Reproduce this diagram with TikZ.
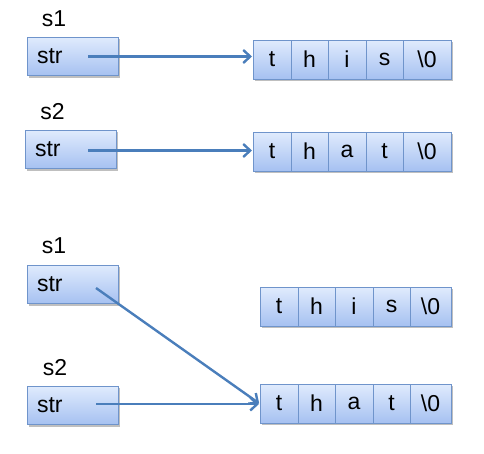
\documentclass[tikz,border=0pt]{standalone}
\usepackage{fontspec}
\setmainfont{Liberation Sans}
\usetikzlibrary{arrows.meta,shadows}
\definecolor{boxtop}{HTML}{E0EBFD}
\definecolor{boxbot}{HTML}{A6C1F1}
\definecolor{boxline}{HTML}{6F94CB}
\definecolor{arrowc}{HTML}{4A7EBB}
\begin{document}
\begin{tikzpicture}[x=1pt,y=-1pt,
  shaded/.style={draw=boxline, line width=0.9pt, top color=boxtop, bottom color=boxbot,
    drop shadow={shadow xshift=1.5pt,shadow yshift=-2.2pt,fill=black!50,opacity=0.5},
    inner sep=0pt, outer sep=0pt},
  txt/.style={font=\fontsize{23}{27}\selectfont},
  strbox/.style={shaded, txt, anchor=north west, minimum height=38.5pt,
    text width=71pt, inner xsep=10pt, align=left},
  cell/.style={shaded, txt, anchor=north west, minimum height=39pt, minimum width=#1},
  lbl/.style={txt, anchor=base, inner sep=0pt},
  ptr/.style={draw=arrowc, line width=2.4pt, -{Straight Barb[length=7pt,width=13pt]}, shorten >=1pt}
]
\useasboundingbox (0,0) rectangle (484,453);

% ---------- top half ----------
\node[lbl] (l1) at (54,26) {s1};
\node[strbox] (p1) at (27,37) {str};
\coordinate (p1s) at (88,56.5);
\node[cell=38pt] (a1) at (253,40) {t};
\node[cell=37pt] (a2) at (291,40) {h};
\node[cell=38pt] (a3) at (328,40) {i};
\node[cell=37pt] (a4) at (366,40) {s};
\node[cell=48pt] (a5) at (403,40) {\textbackslash 0};
\draw[ptr] (p1s) -- (a1.west |- p1s);

\node[lbl] (l2) at (52.5,119) {s2};
\node[strbox] (p2) at (25,130) {str};
\coordinate (p2s) at (88,150.5);
\node[cell=38pt] (b1) at (253,132) {t};
\node[cell=37pt] (b2) at (291,132) {h};
\node[cell=38pt] (b3) at (328,132) {a};
\node[cell=37pt] (b4) at (366,132) {t};
\node[cell=48pt] (b5) at (403,132) {\textbackslash 0};
\draw[ptr] (p2s) -- (b1.west |- p2s);

% ---------- bottom half ----------
\node[lbl] (l3) at (54,253) {s1};
\node[strbox] (p3) at (27,265) {str};
\coordinate (p3s) at (96,288);
\node[cell=38pt] (c1) at (260,287) {t};
\node[cell=37pt] (c2) at (298,287) {h};
\node[cell=38pt] (c3) at (335,287) {i};
\node[cell=37pt] (c4) at (373,287) {s};
\node[cell=41pt] (c5) at (410,287) {\textbackslash 0};

\node[lbl] (l4) at (55,375) {s2};
\node[strbox] (p4) at (27,386) {str};
\coordinate (p4s) at (96,404);
\node[cell=38pt] (d1) at (260,384) {t};
\node[cell=37pt] (d2) at (298,384) {h};
\node[cell=38pt] (d3) at (335,384) {a};
\node[cell=37pt] (d4) at (373,384) {t};
\node[cell=41pt] (d5) at (410,384) {\textbackslash 0};
\coordinate (dt) at (d1.west |- p4s);
\draw[ptr] (p3s) -- (dt);
\draw[ptr] (p4s) -- (dt);
\end{tikzpicture}
\end{document}
